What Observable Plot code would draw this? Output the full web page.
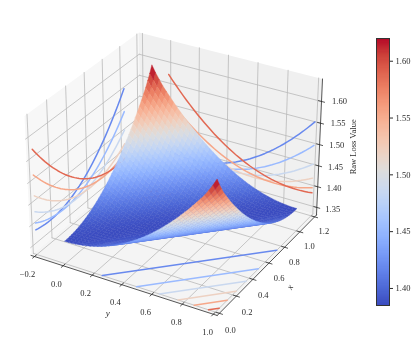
<!DOCTYPE html>
<html><head><meta charset="utf-8">
<script src="https://cdn.jsdelivr.net/npm/d3@7"></script>
<script src="https://cdn.jsdelivr.net/npm/@observablehq/plot@0.6"></script>
<style>
html,body{margin:0;padding:0;background:#fff;overflow:hidden}
#wrap{position:relative;width:416px;height:343px}
#wrap svg{position:absolute;top:0;background:transparent;will-change:transform}
</style></head><body><div id="wrap"></div>
<script>
// Loss value, indexed by the gap |x - y| in steps of 0.025
const gapStep = 0.025;
const lossByGap = [1.3850,1.3851,1.3856,1.3863,1.3874,1.3887,1.3903,1.3922,1.3944,1.3969,
1.3997,1.4028,1.4062,1.4098,1.4138,1.4180,1.4226,1.4274,1.4326,1.4380,
1.4438,1.4498,1.4561,1.4627,1.4696,1.4768,1.4843,1.4921,1.5002,1.5085,
1.5172,1.5261,1.5354,1.5449,1.5548,1.5649,1.5754,1.5861,1.5990,1.6125,1.6280];
const wallLevels = [0.15,0.30,0.45,0.60,0.75,0.90];
const contourTone = [0.143,0.286,0.429,0.571,0.714,0.857];
const floorGaps = [0.253,0.484,0.636,0.758,0.863,0.956];
const hTicks = [-0.2,0,0.2,0.4,0.6,0.8,1.0];
const hLabels = ["−0.2","0.0","0.2","0.4","0.6","0.8","1.0"];
const dTicks = [0,0.2,0.4,0.6,0.8,1.0,1.2];
const dLabels = ["0.0","0.2","0.4","0.6","0.8","1.0","1.2"];
const zTicks = [1.35,1.40,1.45,1.50,1.55,1.60];
const zLabels = ["1.35","1.40","1.45","1.50","1.55","1.60"];
const barTicks = [1.40,1.45,1.50,1.55,1.60];
const coolwarmAt = [0,.0625,.125,.1875,.25,.3125,.375,.4375,.5,.5625,.625,.6875,.75,.8125,.875,.9375,1];
const coolwarm = ["#3b4cc0","#4d68d7","#6282ea","#779af7","#8db0fe","#a3c2ff","#b8d0f9","#ccd9ee","#dddddd","#ecd3c5","#f5c4ad","#f7b194","#f49a7b","#ec7f63","#de604d","#cb3e38","#b40426"];
const zMin = 1.385, zMax = 1.62;
const hLim = [-0.225,1.025], dLim = [-0.025,1.225], zLim = [1.3315,1.651];

// mplot3d style camera
const elev = 30*Math.PI/180, azim = -60*Math.PI/180, dist = 10;
const box = [4,4,3].map(v=>v*1.8294640721620434/Math.hypot(4,4,3));
const C = box.map(v=>v/2);
const n = [Math.cos(elev)*Math.cos(azim),Math.cos(elev)*Math.sin(azim),Math.sin(elev)];
const E = C.map((v,i)=>v+dist*n[i]);
const cross=(a,b)=>[a[1]*b[2]-a[2]*b[1],a[2]*b[0]-a[0]*b[2],a[0]*b[1]-a[1]*b[0]];
const dot=(a,b)=>a[0]*b[0]+a[1]*b[1]+a[2]*b[2];
let u=cross([0,0,1],n); const ul=Math.hypot(...u); u=u.map(v=>v/ul);
const v=cross(n,u);
function project(h,d,z){
  const P=[(h-hLim[0])/(hLim[1]-hLim[0])*box[0],(d-dLim[0])/(dLim[1]-dLim[0])*box[1],(z-zLim[0])/(zLim[1]-zLim[0])*box[2]];
  const Q=P.map((p,i)=>p-E[i]);
  const w=-dot(Q,n);
  return {px:dot(Q,u)/w,py:dot(Q,v)/w,depth:w};
}
const corners=[];
for(const a of hLim)for(const b of dLim)for(const c of zLim)corners.push(project(a,b,c));
const toneOf=z=>Math.min(1,(z-zMin)/(zMax-zMin));

const polyRows=(id,pts,extra)=>pts.map(p=>({id,...project(...p),...extra}));
const [hA,hB]=hLim,[dA,dB]=dLim,[zA,zB]=zLim;
const panes=[
 ...polyRows("left",[[hA,dA,zA],[hA,dB,zA],[hA,dB,zB],[hA,dA,zB],[hA,dA,zA]],{c:"#f7f7f7"}),
 ...polyRows("back",[[hA,dB,zA],[hB,dB,zA],[hB,dB,zB],[hA,dB,zB],[hA,dB,zA]],{c:"#f0f0f0"}),
 ...polyRows("floor",[[hA,dA,zA],[hB,dA,zA],[hB,dB,zA],[hA,dB,zA],[hA,dA,zA]],{c:"#f4f4f4"})
];
const grid=[];
const seg=(id,a,b)=>{grid.push({id,...project(...a)},{id,...project(...b)});};
hTicks.forEach((t,i)=>{seg("hb"+i,[t,dB,zA],[t,dB,zB]);seg("hf"+i,[t,dA,zA],[t,dB,zA]);});
dTicks.forEach((t,i)=>{seg("dl"+i,[hA,t,zA],[hA,t,zB]);seg("df"+i,[hA,t,zA],[hB,t,zA]);});
zTicks.forEach((t,i)=>{seg("zl"+i,[hA,dA,t],[hA,dB,t]);seg("zb"+i,[hA,dB,t],[hB,dB,t]);});

const curves=[];
const K=lossByGap.length;
wallLevels.forEach((L,i)=>{
  const lk=Math.round(L/gapStep);
  for(let k=0;k<K;k++){
    const z=lossByGap[Math.abs(k-lk)];
    curves.push({id:"L"+i,t:contourTone[i],...project(-0.2,k*gapStep,z)});
  }
  for(let k=0;k<K;k++){
    const z=lossByGap[Math.abs(k-lk)];
    curves.push({id:"B"+i,t:contourTone[i],...project(k*gapStep,1.2,z)});
  }
});
floorGaps.forEach((g,i)=>{
  curves.push({id:"F"+i,t:contourTone[i],...project(g,0,zA)},{id:"F"+i,t:contourTone[i],...project(1,1-g,zA)});
  curves.push({id:"G"+i,t:contourTone[i],...project(0,g,zA)},{id:"G"+i,t:contourTone[i],...project(1-g,1,zA)});
});

const cells=[];
const zAt=(a,b)=>lossByGap[Math.abs(a-b)];
for(let a=0;a<K-1;a++)for(let b=0;b<K-1;b++){
  const c=[[a,b],[a+1,b],[a+1,b+1],[a,b+1]];
  const pts=c.map(([p,q])=>project(p*gapStep,q*gapStep,zAt(p,q)));
  const zm=d3.mean(c,([p,q])=>zAt(p,q));
  cells.push({pts,t:toneOf(zm),depth:d3.mean(pts,p=>p.depth)});
}
cells.sort((p,q)=>q.depth-p.depth);
const surface=[];
cells.forEach((c,i)=>{[...c.pts,c.pts[0]].forEach(p=>surface.push({id:i,px:p.px,py:p.py,t:c.t}));});

const tickRows=[], labelRows=[];
const tickSeg=(id,a,b)=>{tickRows.push({id,...project(...a)},{id,...project(...b)});};
hTicks.forEach((t,i)=>{tickSeg("th"+i,[t,dA-0.02,zA],[t,dA+0.02,zA]);labelRows.push({...project(t,dA,zA),s:hLabels[i],dx:-7+i*0.23,dy:18});});
dTicks.forEach((t,i)=>{tickSeg("td"+i,[hB-0.02,t,zA],[hB+0.02,t,zA]);labelRows.push({...project(hB,t,zA),s:dLabels[i],dx:11-i*0.3,dy:16.5-i*0.4});});
zTicks.forEach((t,i)=>{tickSeg("tz"+i,[hB-0.02,dB,t],[hB+0.02,dB,t]);labelRows.push({...project(hB,dB,t),s:zLabels[i],dx:16+i*0.4,dy:2-i*0.4});});
const axisRows=[];
[[[hA,dA,zA],[hB,dA,zA]],[[hB,dA,zA],[hB,dB,zA]],[[hB,dB,zA],[hB,dB,zB]]].forEach((s,i)=>{
  axisRows.push({id:i,...project(...s[0])},{id:i,...project(...s[1])});
});
const font="Liberation Serif";
const ink="#2b2b2b";
const xy={x:"px",y:"py"};
const main=Plot.plot({
  width:416,height:343,margin:0,
  style:{background:"transparent",fontFamily:font},
  x:{axis:null,domain:[d3.min(corners,c=>c.px),d3.max(corners,c=>c.px)],range:[24,322]},
  y:{axis:null,domain:[d3.min(corners,c=>c.py),d3.max(corners,c=>c.py)],range:[315,32]},
  color:{type:"linear",domain:coolwarmAt,range:coolwarm,interpolate:"rgb"},
  marks:[
    Plot.line(panes,{...xy,z:"id",fill:"c",stroke:"none"}),
    Plot.line(grid,{...xy,z:"id",stroke:"#b9b9b9",strokeWidth:0.8}),
    Plot.line(curves,{...xy,z:"id",stroke:"t",strokeWidth:1.5}),
    Plot.line(surface,{...xy,z:"id",fill:"t",stroke:"t",strokeWidth:0.4}),
    Plot.line(axisRows,{...xy,z:"id",stroke:ink,strokeWidth:0.8}),
    Plot.line(tickRows,{...xy,z:"id",stroke:ink,strokeWidth:0.8}),
    ...labelRows.map(r=>Plot.text([r],{...xy,text:"s",dx:r.dx,dy:r.dy,fontSize:8.5,fill:ink})),
    Plot.text([{...project(0.42,dA,zA),s:"y"}],{...xy,text:"s",dx:-17,dy:27,fontSize:9,fontStyle:"italic",fill:ink}),
    Plot.text([{...project(hB,0.6,zA),s:"x"}],{...xy,text:"s",dx:21,dy:24,rotate:-60,fontSize:9,fontStyle:"italic",fill:ink}),
    Plot.text([{...project(hB,dB,1.495),s:"Raw Loss Value"}],{...xy,text:"s",dx:34,rotate:-90,fontSize:8.5,fill:ink})
  ]
});
main.style.left="0px";
document.getElementById("wrap").appendChild(main);

const slices=d3.range(zMin,zMax,0.001).map(s=>({s,e:s+0.002,t:toneOf(s)}));
const bar=Plot.plot({
  width:46,height:343,marginLeft:6,marginRight:27,marginTop:38,marginBottom:38,
  style:{background:"transparent",fontFamily:font,fontSize:"8.5px"},
  x:{axis:null,domain:[0,1]},
  y:{axis:null,domain:[zMin,zMax]},
  color:{type:"linear",domain:coolwarmAt,range:coolwarm,interpolate:"rgb"},
  marks:[
    Plot.rect(slices,{x1:0,x2:1,y1:"s",y2:d=>Math.min(d.e,zMax),fill:"t",shapeRendering:"crispEdges"}),
    Plot.frame({stroke:"#333",strokeWidth:1}),
    Plot.axisY(barTicks,{anchor:"right",tickSize:3,tickPadding:3,tickFormat:d3.format(".2f"),label:null,stroke:ink,fill:ink})
  ]
});
bar.style.left="370px";
document.getElementById("wrap").appendChild(bar);
</script></body></html>
